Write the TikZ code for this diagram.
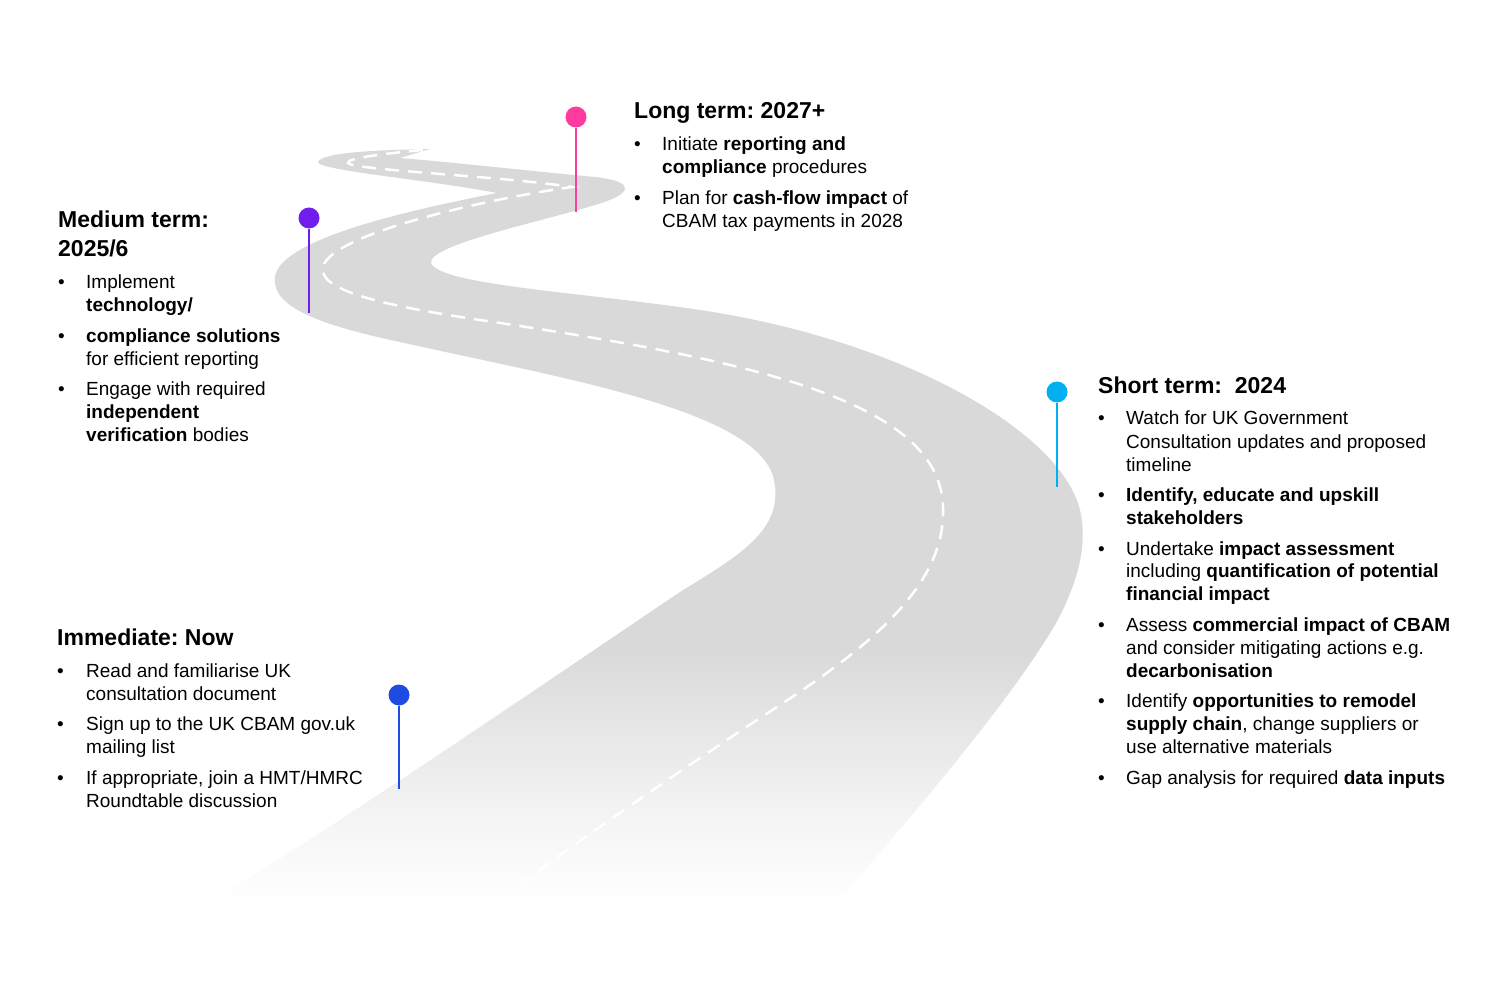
\documentclass[tikz,border=0pt]{standalone}
\usepackage{fontspec}
\setmainfont{Liberation Sans}
\definecolor{roadgray}{HTML}{D9D9D9}
\definecolor{fadeA}{HTML}{F6F6F6}
\definecolor{fadeB}{HTML}{E8E8E8}
\definecolor{pinpink}{HTML}{FF3BA0}
\definecolor{pinviolet}{HTML}{701EEB}
\definecolor{pincyan}{HTML}{00B0F0}
\definecolor{pinblue}{HTML}{1E4BE1}
\pgfdeclareverticalshading{roadfade}{100bp}{color(0bp)=(white); color(25bp)=(white); color(30bp)=(fadeA); color(36bp)=(fadeB); color(42bp)=(roadgray); color(100bp)=(roadgray)}
\newcommand{\hdfont}{\fontsize{23}{28}\selectfont\bfseries}
\frenchspacing
\begin{document}
\begin{tikzpicture}[x=1pt, y=-1pt,
		road/.style={shade, shading=roadfade},
		midline/.style={draw=white, line width=2.5pt, dash pattern=on 14pt off 9pt},
		pinhead/.style={circle, inner sep=0pt, minimum size=21pt},
		pinline/.style={line width=1.5pt},
		blk/.style={anchor=base west, inner sep=0pt, font=\fontsize{19}{23}\selectfont}
		]
	\useasboundingbox[fill=white] (0,0) rectangle (1500,1000);
	\path[road] (430,149) .. controls (380,150) and (322,152) .. (318,162)
	  .. controls (316,170) and (430,180) .. (497,193)
	  .. controls (400,212) and (280,240) .. (275,277)
	  .. controls (271,307) and (320,325) .. (400,342)
	  .. controls (560,378) and (760,410) .. (774,480)
	  .. controls (784,530) and (740,555) .. (680,592)
	  .. controls (520,700) and (330,830) .. (205,905)
	  -- (835,905)
	  .. controls (930,795) and (1010,700) .. (1055,625)
	  .. controls (1078,583) and (1088,545) .. (1080,510)
	  .. controls (1060,430) and (900,340) .. (700,310)
	  .. controls (580,292) and (440,285) .. (431,263)
	  .. controls (428,245) and (540,222) .. (595,205)
	  .. controls (630,195) and (640,182) .. (595,177)
	  .. controls (540,172) and (460,163) .. (400,158)
	  -- cycle;
	\draw[midline] (423,150) .. controls (390,153) and (345,158) .. (348,163)
	  .. controls (352,170) and (500,176) .. (572,187)
	  .. controls (480,200) and (330,235) .. (323,267)
	  .. controls (318,290) and (380,305) .. (480,320)
	  .. controls (750,360) and (940,400) .. (943,507)
	  .. controls (946,580) and (880,640) .. (780,705)
	  .. controls (680,770) and (580,840) .. (505,895);

	\node[pinhead, fill=pinpink] (p4) at (576,117) {};
	\coordinate (q4) at (576,212);
	\draw[pinline, pinpink] (p4) -- (q4);
	\node[pinhead, fill=pinviolet] (p3) at (309,218) {};
	\coordinate (q3) at (309,313);
	\draw[pinline, pinviolet] (p3) -- (q3);
	\node[pinhead, fill=pincyan] (p2) at (1057,392) {};
	\coordinate (q2) at (1057,487);
	\draw[pinline, pincyan] (p2) -- (q2);
	\node[pinhead, fill=pinblue] (p1) at (399,695) {};
	\coordinate (q1) at (399,789);
	\draw[pinline, pinblue] (p1) -- (q1);

	\node[blk] (lt) at (634,119) {\begin{tabular}[t]{@{}p{28pt}@{}l@{}}
		\multicolumn{2}{@{}l@{}}{\hdfont Long term: 2027+}\\[9pt]
		\textbullet & Initiate \textbf{reporting and}\\
		 & \textbf{compliance} procedures\\[7.5pt]
		\textbullet & Plan for \textbf{cash-flow impact} of\\
		 & CBAM tax payments in 2028
	\end{tabular}};
	\node[blk] (mt) at (58,228) {\begin{tabular}[t]{@{}p{28pt}@{}l@{}}
		\multicolumn{2}{@{}l@{}}{\hdfont Medium term:}\\[5pt]
		\multicolumn{2}{@{}l@{}}{\hdfont 2025/6}\\[9pt]
		\textbullet & Implement\\
		 & \textbf{technology/}\\[7.5pt]
		\textbullet & \textbf{compliance solutions}\\
		 & for efficient reporting\\[7.5pt]
		\textbullet & Engage with required\\
		 & \textbf{independent}\\
		 & \textbf{verification} bodies
	\end{tabular}};
	\node[blk] (st) at (1098,393) {\begin{tabular}[t]{@{}p{28pt}@{}l@{}}
		\multicolumn{2}{@{}l@{}}{\hdfont Short term:\ \ 2024}\\[9pt]
		\textbullet & Watch for UK Government\\
		 & Consultation updates and proposed\\
		 & timeline\\[7.5pt]
		\textbullet & \textbf{Identify, educate and upskill}\\
		 & \textbf{stakeholders}\\[7.5pt]
		\textbullet & Undertake \textbf{impact assessment}\\
		 & including \textbf{quantification of potential}\\
		 & \textbf{financial impact}\\[7.5pt]
		\textbullet & Assess \textbf{commercial impact of CBAM}\\
		 & and consider mitigating actions e.g.\\
		 & \textbf{decarbonisation}\\[7.5pt]
		\textbullet & Identify \textbf{opportunities to remodel}\\
		 & \textbf{supply chain}, change suppliers or\\
		 & use alternative materials\\[7.5pt]
		\textbullet & Gap analysis for required \textbf{data inputs}
	\end{tabular}};
	\node[blk] (im) at (57,645) {\begin{tabular}[t]{@{}p{29pt}@{}l@{}}
		\multicolumn{2}{@{}l@{}}{\hdfont Immediate: Now}\\[9pt]
		\textbullet & Read and familiarise UK\\
		 & consultation document\\[7.5pt]
		\textbullet & Sign up to the UK CBAM gov.uk\\
		 & mailing list\\[7.5pt]
		\textbullet & If appropriate, join a HMT/HMRC\\
		 & Roundtable discussion
	\end{tabular}};
\end{tikzpicture}
\end{document}
